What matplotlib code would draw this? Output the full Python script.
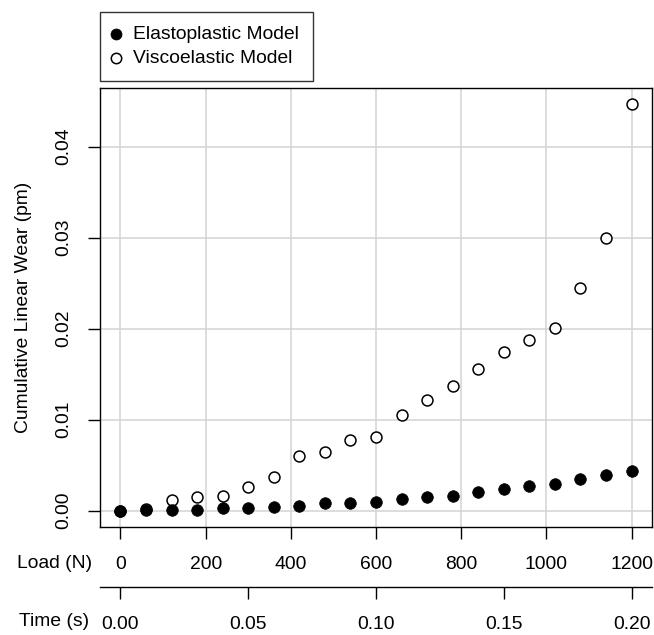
import matplotlib
matplotlib.use("Agg")
import matplotlib.pyplot as plt
import numpy as np

plt.rcParams['font.family'] = ['Liberation Sans', 'DejaVu Sans']

load = [0, 60, 120, 180, 240, 300, 360, 420, 480, 540, 600, 660, 720, 780,
        840, 900, 960, 1020, 1080, 1140, 1200]
elastoplastic = [0.0, 0.0001, 0.0001, 0.0001, 0.00025, 0.0003, 0.0004, 0.0005,
                 0.0008, 0.0008, 0.0010, 0.0013, 0.00146, 0.0016, 0.0021,
                 0.0024, 0.0027, 0.0029, 0.0035, 0.0039, 0.0044]
viscoelastic = [0.0, 0.0002, 0.0012, 0.0015, 0.00165, 0.00256, 0.00366, 0.00596,
                0.0065, 0.00776, 0.0081, 0.01046, 0.01218, 0.01375, 0.01555,
                0.0174, 0.01877, 0.0201, 0.02444, 0.02993, 0.04464]
load_ticks = [0, 200, 400, 600, 800, 1000, 1200]
wear_ticks = [0.00, 0.01, 0.02, 0.03, 0.04]
time_ticks = [0.00, 0.05, 0.10, 0.15, 0.20]
time_per_load = 0.20 / 1200

FS = 13.9
W, H = 654, 635
fig = plt.figure(figsize=(W / 100, H / 100), dpi=100)
ax = fig.add_axes([100 / W, 1 - 527 / H, (652 - 100) / W, (527 - 88) / H])

ax.scatter(load, viscoelastic, s=62, facecolors='white', edgecolors='black',
           linewidths=1.1, zorder=3, label='Viscoelastic Model')
ax.scatter(load, elastoplastic, s=70, facecolors='black', edgecolors='black',
           linewidths=0.5, zorder=4, label='Elastoplastic Model')

ax.set_xlim(-48, 1248)
ymax = max(viscoelastic)
ax.set_ylim(-0.04 * ymax, 1.04 * ymax)
ax.set_xticks(load_ticks)
ax.set_xticklabels([str(v) for v in load_ticks])
ax.set_yticks(wear_ticks)
ax.set_yticklabels(['%.2f' % v for v in wear_ticks], rotation=90, va='center')
ax.grid(True, color='#d3d3d3', linewidth=1.1, zorder=0)
ax.set_axisbelow(True)
for s in ax.spines.values():
    s.set_linewidth(1.0)
ax.tick_params(axis='both', direction='out', length=8.8, width=1.0,
               labelsize=FS, colors='black')
ax.tick_params(axis='x', pad=12)
ax.tick_params(axis='y', pad=11)
ax.set_ylabel('Cumulative Linear Wear (pm)', fontsize=FS, labelpad=17)

sec = ax.secondary_xaxis(-(587 - 527) / (527 - 88),
                         functions=(lambda x: x * time_per_load,
                                    lambda x: x / time_per_load))
sec.set_xticks(time_ticks)
sec.set_xticklabels(['%.2f' % v for v in time_ticks])
sec.tick_params(direction='out', length=8.8, width=1.0, labelsize=FS, pad=12)
sec.spines['bottom'].set_linewidth(1.0)

fig.text(92 / W, 1 - 563 / H, 'Load (N)', ha='right', va='center', fontsize=FS)
fig.text(89 / W, 1 - 622 / H, 'Time (s)', ha='right', va='center', fontsize=FS)

h, l = ax.get_legend_handles_labels()
leg = ax.legend([h[1], h[0]], [l[1], l[0]], loc='lower left',
                bbox_to_anchor=(0, 1 + 7 / 439), borderaxespad=0,
                fontsize=FS, frameon=True, fancybox=False, edgecolor='black',
                handlelength=0.25, handletextpad=0.75, borderpad=0.72,
                labelspacing=0.32, markerscale=0.95)
leg.get_frame().set_linewidth(1.0)

fig.savefig('out.png', dpi=100)
